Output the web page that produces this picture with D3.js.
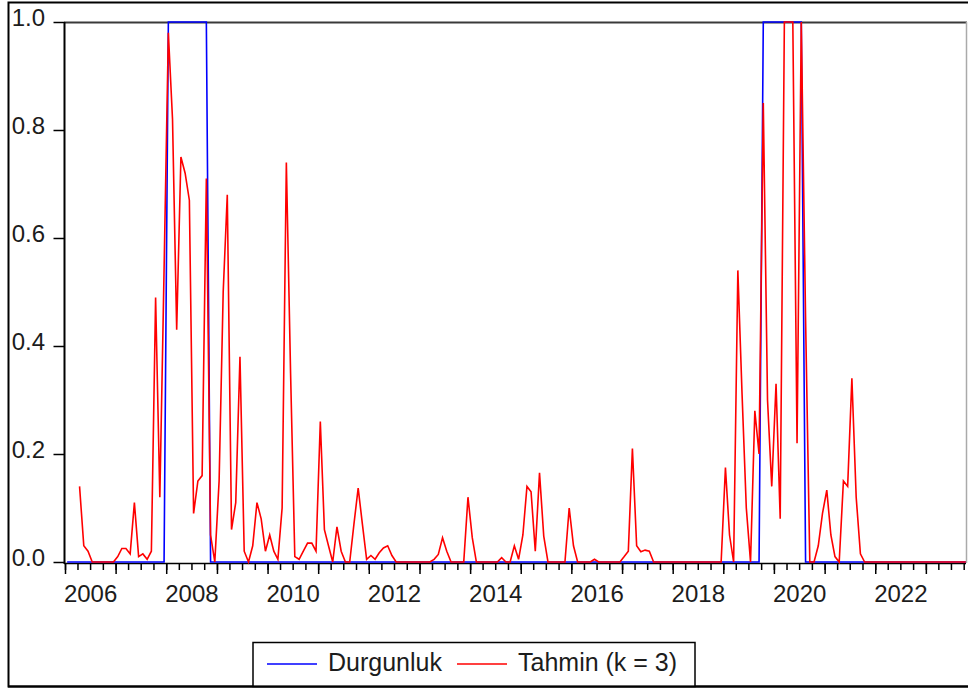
<!DOCTYPE html>
<html lang="tr">
<head>
<meta charset="UTF-8">
<title>Durgunluk ve Tahmin (k = 3)</title>
<script src="https://d3js.org/d3.v7.min.js"></script>
<style>
  body { margin: 0; background: #fff; }
  svg { display: block; font-family: "Liberation Sans", Arial, sans-serif; }
  .lbl { fill: #1c1c1c; font-size: 24px; }
  .leg { fill: #1c1c1c; font-size: 25px; }
</style>
</head>
<body>
<svg width="968" height="689"></svg>
<script>
const width = 968, height = 689;

// aylik gozlemler: 2006M01 - 2023M10
const startMonth = new Date(2006, 0, 1);
const endMonth = new Date(2023, 10, 1);
const months = d3.timeMonth.range(startMonth, endMonth);

const durgunluk = [
  0, 0, 0, 0, 0, 0, 0, 0, 0, 0, 0, 0,             // 2006
  0, 0, 0, 0, 0, 0, 0, 0, 0, 0, 0, 0,             // 2007
  1, 1, 1, 1, 1, 1, 1, 1, 1, 1, 0, 0,             // 2008
  0, 0, 0, 0, 0, 0, 0, 0, 0, 0, 0, 0,             // 2009
  0, 0, 0, 0, 0, 0, 0, 0, 0, 0, 0, 0,             // 2010
  0, 0, 0, 0, 0, 0, 0, 0, 0, 0, 0, 0,             // 2011
  0, 0, 0, 0, 0, 0, 0, 0, 0, 0, 0, 0,             // 2012
  0, 0, 0, 0, 0, 0, 0, 0, 0, 0, 0, 0,             // 2013
  0, 0, 0, 0, 0, 0, 0, 0, 0, 0, 0, 0,             // 2014
  0, 0, 0, 0, 0, 0, 0, 0, 0, 0, 0, 0,             // 2015
  0, 0, 0, 0, 0, 0, 0, 0, 0, 0, 0, 0,             // 2016
  0, 0, 0, 0, 0, 0, 0, 0, 0, 0, 0, 0,             // 2017
  0, 0, 0, 0, 0, 0, 0, 0, 0, 0, 0, 0,             // 2018
  0, 0, 0, 0, 0, 0, 0, 0, 0, 1, 1, 1,             // 2019
  1, 1, 1, 1, 1, 1, 1, 0, 0, 0, 0, 0,             // 2020
  0, 0, 0, 0, 0, 0, 0, 0, 0, 0, 0, 0,             // 2021
  0, 0, 0, 0, 0, 0, 0, 0, 0, 0, 0, 0,             // 2022
  0, 0, 0, 0, 0, 0, 0, 0, 0, 0                    // 2023
];

const tahmin = [
  null, null, null, 0.14, 0.03, 0.02, 0, 0, 0, 0, 0, 0,                     // 2006
  0.01, 0.025, 0.025, 0.015, 0.11, 0.01, 0.015, 0.005, 0.02, 0.49, 0.12, 0.54, // 2007
  0.98, 0.82, 0.43, 0.75, 0.72, 0.67, 0.09, 0.15, 0.16, 0.71, 0.05, 0,        // 2008
  0.15, 0.5, 0.68, 0.06, 0.11, 0.38, 0.02, 0, 0.03, 0.11, 0.08, 0.02,         // 2009
  0.05, 0.02, 0.005, 0.1, 0.74, 0.35, 0.01, 0.005, 0.02, 0.035, 0.035, 0.02,  // 2010
  0.26, 0.06, 0.03, 0, 0.065, 0.02, 0, 0, 0.07, 0.137, 0.07, 0.005,           // 2011
  0.012, 0.005, 0.017, 0.026, 0.03, 0.012, 0, 0, 0, 0, 0, 0,                  // 2012
  0, 0, 0, 0.005, 0.014, 0.045, 0.02, 0, 0, 0, 0, 0.12,                       // 2013
  0.045, 0, 0, 0, 0, 0, 0, 0.008, 0, 0, 0.03, 0.005,                          // 2014
  0.05, 0.14, 0.13, 0.02, 0.165, 0.048, 0, 0, 0, 0, 0, 0.1,                   // 2015
  0.03, 0, 0, 0, 0, 0.005, 0, 0, 0, 0, 0, 0,                                  // 2016
  0.01, 0.02, 0.21, 0.03, 0.019, 0.022, 0.02, 0, 0, 0, 0, 0,                  // 2017
  0, 0, 0, 0, 0, 0, 0, 0, 0, 0, 0, 0,                                         // 2018
  0.175, 0.05, 0, 0.54, 0.31, 0.1, 0, 0.28, 0.2, 0.85, 0.3, 0.14,             // 2019
  0.33, 0.08, 1, 1, 1, 0.22, 1, 0.45, 0, 0, 0.03, 0.09,                       // 2020
  0.133, 0.05, 0.01, 0, 0.15, 0.14, 0.34, 0.12, 0.015, 0, 0, 0,               // 2021
  0, 0, 0, 0, 0, 0, 0, 0, 0, 0, 0, 0,                                         // 2022
  0, 0, 0, 0, 0, 0, 0, 0, 0, 0                                                // 2023
];

const yTicks = [0, 0.2, 0.4, 0.6, 0.8, 1.0];
const yearLabels = ["2006", "2008", "2010", "2012", "2014", "2016", "2018", "2020", "2022"];
const seriesNames = ["Durgunluk", "Tahmin (k = 3)"];

const blue = "#0000ff", red = "#ff0000";

const svg = d3.select("svg");

const x = d3.scaleTime().domain([startMonth, endMonth]).range([65, 968]);
const y = d3.scaleLinear().domain([0, 1]).range([562, 22]);
const px = d => (x(d) + x(d3.timeMonth.offset(d, 1))) / 2;

// dis cerceve
svg.append("rect")
  .attr("x", 8.5).attr("y", 2.5)
  .attr("width", 975).attr("height", 684)
  .attr("fill", "#fff").attr("stroke", "#000").attr("stroke-width", 2);

// grafik cercevesi (ust ve sag)
svg.append("line")
  .attr("x1", 64).attr("x2", 967).attr("y1", 22.5).attr("y2", 22.5)
  .attr("stroke", "#3a3a3a").attr("stroke-width", 1.8);
svg.append("line")
  .attr("x1", 966.5).attr("x2", 966.5).attr("y1", 22).attr("y2", 563)
  .attr("stroke", "#aaa").attr("stroke-width", 1.5);

// y ekseni
const yAxis = svg.append("g")
  .attr("transform", "translate(64.5,0)")
  .call(d3.axisLeft(y).tickValues(yTicks).tickSize(11).tickPadding(8.5)
    .tickFormat(d3.format(".1f")));
yAxis.select(".domain").remove();
yAxis.selectAll("line").attr("stroke", "#000").attr("stroke-width", 1.5);
yAxis.selectAll("text").attr("class", "lbl").attr("dy", "0.13em")
  .attr("font-size", null).attr("font-family", null);
svg.append("line")
  .attr("x1", 64.5).attr("x2", 64.5).attr("y1", 22).attr("y2", 564)
  .attr("stroke", "#000").attr("stroke-width", 2);

// x ekseni: ceyreklik kisa, yillik uzun cizgiler
const quarterTicks = d3.timeMonth.every(3).range(startMonth, endMonth);
const yearTicks = d3.timeYear.range(startMonth, endMonth);

const xMinor = svg.append("g")
  .attr("transform", "translate(0,563)")
  .call(d3.axisBottom(x).tickValues(quarterTicks).tickSize(7).tickFormat(""));
const xMajor = svg.append("g")
  .attr("transform", "translate(0,563)")
  .call(d3.axisBottom(x).tickValues(yearTicks).tickSize(11).tickFormat(""));
const xLabels = svg.append("g")
  .attr("transform", "translate(0,563)")
  .call(d3.axisBottom(x)
    .tickValues(yearLabels.map(s => new Date(+s, 6, 1)))
    .tickSize(0).tickPadding(21.5)
    .tickFormat(d3.timeFormat("%Y")));
[xMinor, xMajor, xLabels].forEach(g => g.select(".domain").remove());
svg.selectAll(".tick line").attr("stroke", "#000").attr("stroke-width", 1.5);
xLabels.selectAll("text").attr("class", "lbl")
  .attr("font-size", null).attr("font-family", null);
svg.selectAll("g").attr("font-size", null).attr("font-family", null);

svg.append("line")
  .attr("x1", 64).attr("x2", 966).attr("y1", 563.5).attr("y2", 563.5)
  .attr("stroke", "#000").attr("stroke-width", 1.5);

// seriler
const rows = months.map((d, i) => ({ date: d, durgunluk: durgunluk[i], tahmin: tahmin[i] }));

const lineFor = key => d3.line()
  .defined(d => d[key] != null)
  .x(d => px(d.date))
  .y(d => y(d[key]));

svg.append("path")
  .datum(rows)
  .attr("d", lineFor("durgunluk"))
  .attr("fill", "none").attr("stroke", blue).attr("stroke-width", 1.6);

svg.append("path")
  .datum(rows)
  .attr("d", lineFor("tahmin"))
  .attr("fill", "none").attr("stroke", red).attr("stroke-width", 1.6);

// lejant
const legend = svg.append("g");
legend.append("rect")
  .attr("x", 253).attr("y", 642.5).attr("width", 442).attr("height", 44)
  .attr("fill", "#fff").attr("stroke", "#000").attr("stroke-width", 1.5);

const legendItems = [
  { name: seriesNames[0], color: blue, x0: 267 },
  { name: seriesNames[1], color: red, x0: 457 }
];
legendItems.forEach(it => {
  legend.append("line")
    .attr("x1", it.x0).attr("x2", it.x0 + 50)
    .attr("y1", 664).attr("y2", 664)
    .attr("stroke", it.color).attr("stroke-width", 1.6);
  legend.append("text")
    .attr("class", "leg")
    .attr("x", it.x0 + 61).attr("y", 670.5)
    .text(it.name);
});
svg.append("line")
  .attr("x1", 8).attr("x2", 968).attr("y1", 686.5).attr("y2", 686.5)
  .attr("stroke", "#000").attr("stroke-width", 2);
</script>
</body>
</html>
